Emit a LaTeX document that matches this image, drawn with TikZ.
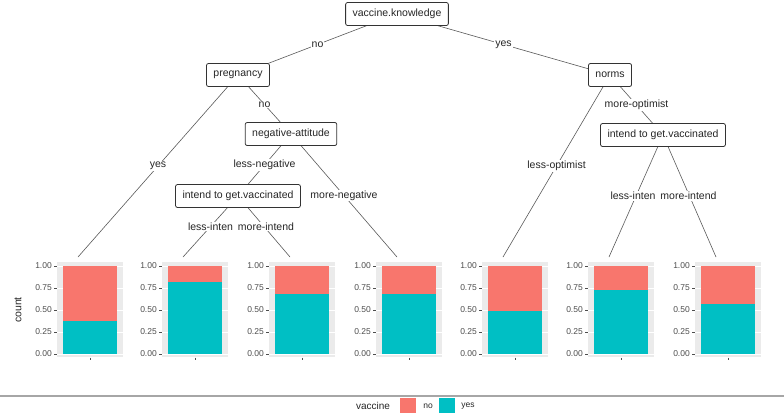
\documentclass[tikz,border=0pt]{standalone}
\usepackage{fontspec}
\setmainfont{Liberation Sans}
\definecolor{tealc}{HTML}{00BFC4}
\definecolor{redc}{HTML}{F8766D}
\definecolor{panelbg}{HTML}{EBEBEB}
\definecolor{axtext}{HTML}{4D4D4D}
\pgfdeclarelayer{background}
\pgfsetlayers{background,main}
\begin{document}
\begin{tikzpicture}[x=1pt,y=-1pt,
  tbox/.style={draw=black!80, rounded corners=2pt, fill=white, line width=0.8pt,
    inner xsep=7pt, inner ysep=0pt, minimum height=23pt,
    font=\fontsize{10.5}{12}\selectfont, text=black!85},
  elab/.style={fill=white, inner sep=1pt, font=\fontsize{10.5}{12}\selectfont, text=black!85},
  edgeline/.style={draw=black!65, line width=0.6pt},
  axlab/.style={font=\fontsize{8.5}{9}\selectfont, text=axtext, anchor=east, inner sep=0pt},
  legtext/.style={font=\fontsize{8.5}{10}\selectfont, text=black!85, inner sep=0pt}]
\useasboundingbox (0,0) rectangle (784,418);

% tree nodes
\node[tbox] (vk) at (397,14) {vaccine.knowledge};
\node[tbox] (preg) at (238,75) {pregnancy};
\node[tbox] (norms) at (610,75) {norms};
\node[tbox] (neg) at (291,134) {negative-attitude};
\node[tbox] (int1) at (238,196) {intend to get.vaccinated};
\node[tbox] (int2) at (663,135) {intend to get.vaccinated};

% leaf panels
\foreach \i/\l/\f in {1/63/0.37, 2/168/0.82, 3/275/0.68, 4/382/0.68, 5/488/0.49, 6/594/0.73, 7/701/0.57} {
  \pgfmathsetmacro\r{\l+54}
  \pgfmathsetmacro\c{\l+27}
  \pgfmathsetmacro\t{354-88*\f}
  \fill[panelbg] (\l-6,262) rectangle (\r+6,357);
  \foreach \v in {266,288,310,332,354} {
    \draw[white, line width=0.5pt] (\l-6,\v) -- (\r+6,\v);
  }
  \fill[redc] (\l,266) rectangle (\r,\t);
  \fill[tealc] (\l,\t) rectangle (\r,354);
  \foreach \v/\s in {266/1.00,288/0.75,310/0.50,332/0.25,354/0.00} {
    \draw[axtext, line width=0.5pt] (\l-9,\v) -- (\l-6.5,\v);
    \node[axlab] (ax\i-\v) at (\l-11,\v) {\s};
  }
  \draw[axtext, line width=0.5pt] (\c,357.5) -- (\c,360);
  \coordinate (L\i) at (\c-12,257);
}

% edges
\begin{pgfonlayer}{background}
\draw[edgeline] (vk.center) -- (preg.center) node[elab, pos=0.5] (e1) {no};
\draw[edgeline] (vk.center) -- (norms.center) node[elab, pos=0.5] (e2) {yes};
\draw[edgeline] (preg.center) -- (L1) node[elab, pos=0.5] (e3) {yes};
\draw[edgeline] (preg.center) -- (neg.center) node[elab, pos=0.5] (e4) {no};
\draw[edgeline] (neg.center) -- (int1.center) node[elab, pos=0.5] (e5) {less-negative};
\draw[edgeline] (neg.center) -- (L4) node[elab, pos=0.5] (e6) {more-negative};
\draw[edgeline] (int1.center) -- (L2) node[elab, pos=0.5] (e7) {less-inten};
\draw[edgeline] (int1.center) -- (L3) node[elab, pos=0.5, xshift=2pt] (e8) {more-intend};
\draw[edgeline] (norms.center) -- (L5) node[elab, pos=0.5] (e9) {less-optimist};
\draw[edgeline] (norms.center) -- (int2.center) node[elab, pos=0.5] (e10) {more-optimist};
\draw[edgeline] (int2.center) -- (L6) node[elab, pos=0.5, xshift=-3pt] (e11) {less-inten};
\draw[edgeline] (int2.center) -- (L7) node[elab, pos=0.5, xshift=-1pt] (e12) {more-intend};
\end{pgfonlayer}

% y axis title
\node[rotate=90, font=\fontsize{10.5}{12}\selectfont, text=black!85] (count) at (18,310) {count};

% separator and legend
\coordinate (sepL) at (0,396);
\coordinate (sepR) at (784,396);
\draw[black!35, line width=1.3pt] (sepL) -- (sepR);
\node[legtext, font=\fontsize{10}{12}\selectfont] (legt) at (373,406) {vaccine};
\fill[redc] (400,398) rectangle (416,413);
\node[legtext] (legno) at (428,406) {no};
\fill[tealc] (439,398) rectangle (455,413);
\node[legtext] (legyes) at (468,406) {yes};
\end{tikzpicture}
\end{document}
